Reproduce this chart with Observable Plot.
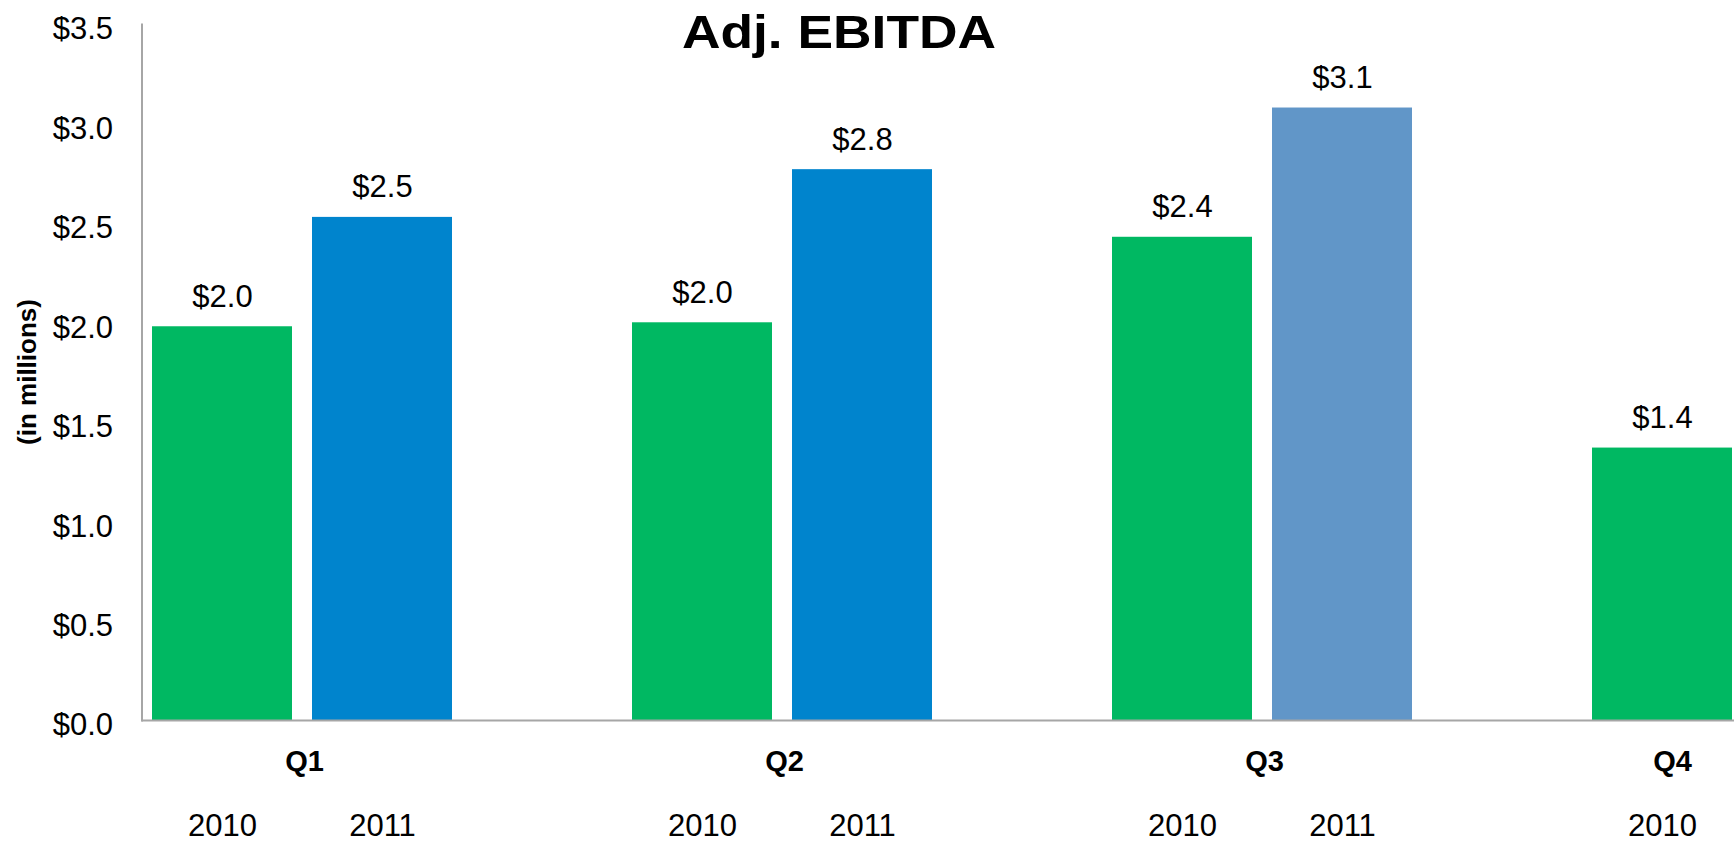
<!DOCTYPE html>
<html>
<head>
<meta charset="utf-8">
<script src="https://cdn.jsdelivr.net/npm/d3@7"></script>
<script src="https://cdn.jsdelivr.net/npm/@observablehq/plot@0.6"></script>
<style>
  html, body { margin: 0; padding: 0; background: #fff; overflow: hidden; }
  #chart { width: 1734px; height: 841px; }
  #chart svg { overflow: hidden; }
</style>
</head>
<body>
<div id="chart"></div>
<script>
// ---- data ----
const title = "Adj. EBITDA";
const yLabel = "(in millions)";
const quarters = ["Q1", "Q2", "Q3", "Q4"];
const years = ["2010", "2011"];
const slots = ["2010", "2011", "2012"];          // third (empty) series slot in each quarter
const values2010 = [1.98, 2.00, 2.43, 1.37];
const values2011 = [2.53, 2.77, 3.08, null];
const latestQuarter = "Q3";                        // drawn in the lighter blue
const yTicks = [0, 0.5, 1, 1.5, 2, 2.5, 3, 3.5];

// ---- build table ----
const seriesValues = {"2010": values2010, "2011": values2011};
const rows = [];
quarters.forEach((q, i) => {
  years.forEach(yr => {
    const v = seriesValues[yr][i];
    if (v != null) rows.push({
      quarter: q, year: yr, value: v, key: q + " " + yr,
      tone: (yr === "2011" && q === latestQuarter) ? "2011 latest" : yr
    });
  });
});
const xDomain = quarters.flatMap(q => slots.map(s => q + " " + s));
const pairLabels = quarters.filter((q, i) => values2011[i] != null).map(q => ({quarter: q, key: q + " 2011"}));
const singleLabels = quarters.filter((q, i) => values2011[i] == null).map(q => ({quarter: q, key: q + " 2010"}));
const fmt = d3.format("$.1f");

const W = 1734, H = 841;
const FONT = "'Liberation Sans', Arial, sans-serif";
const chart = Plot.plot({
  width: W, height: H,
  marginTop: 24, marginBottom: 121, marginLeft: 141.5, marginRight: 0,
  style: {fontFamily: FONT, fontSize: "31px", color: "#000", background: "#fff"},
  x: {type: "band", domain: xDomain, range: [141.5, 141.5 + 160 * xDomain.length], paddingInner: 0.125, paddingOuter: 0.0625, axis: null},
  y: {domain: [0, 3.5], axis: null},
  color: {domain: ["2010", "2011", "2011 latest"], range: ["#00B862", "#0084CD", "#6196C8"]},
  marks: [
    Plot.barY(rows, {x: "key", y: "value", fill: "tone"}),
    Plot.frame({anchor: "left", stroke: "#a6a6a6", strokeWidth: 2}),
    Plot.ruleY([0], {stroke: "#a6a6a6", strokeWidth: 2}),
    Plot.axisY({ticks: yTicks, tickFormat: fmt, tickSize: 0, tickPadding: 29, label: null, fontSize: 31, dy: 5}),
    Plot.text(rows, {x: "key", y: "value", text: d => fmt(d.value), lineAnchor: "bottom", dy: -20, fontSize: 31}),
    Plot.text(rows, {x: "key", y: () => 0, text: "year", lineAnchor: "bottom", dy: 115, fontSize: 31}),
    Plot.text(pairLabels, {x: "key", y: () => 0, text: "quarter", lineAnchor: "bottom", dy: 50, dx: -78, fontSize: 29, fontWeight: "bold"}),
    Plot.text(singleLabels, {x: "key", y: () => 0, text: "quarter", lineAnchor: "bottom", dy: 50, dx: 10, fontSize: 29, fontWeight: "bold"})
  ]
});
document.getElementById("chart").appendChild(chart);

const svg = d3.select(chart);
// Title over the top of the plot area
svg.append("text")
  .attr("transform", "translate(839,48) scale(1.16,1)")
  .attr("text-anchor", "middle")
  .attr("font-family", FONT)
  .attr("font-weight", "bold")
  .attr("font-size", 46)
  .attr("fill", "#000")
  .text(title);
// Rotated y-axis unit label
svg.append("text")
  .attr("transform", "translate(36,372) rotate(-90)")
  .attr("text-anchor", "middle")
  .attr("font-family", FONT)
  .attr("font-weight", "bold")
  .attr("font-size", 26)
  .attr("fill", "#000")
  .text(yLabel);
</script>
</body>
</html>
